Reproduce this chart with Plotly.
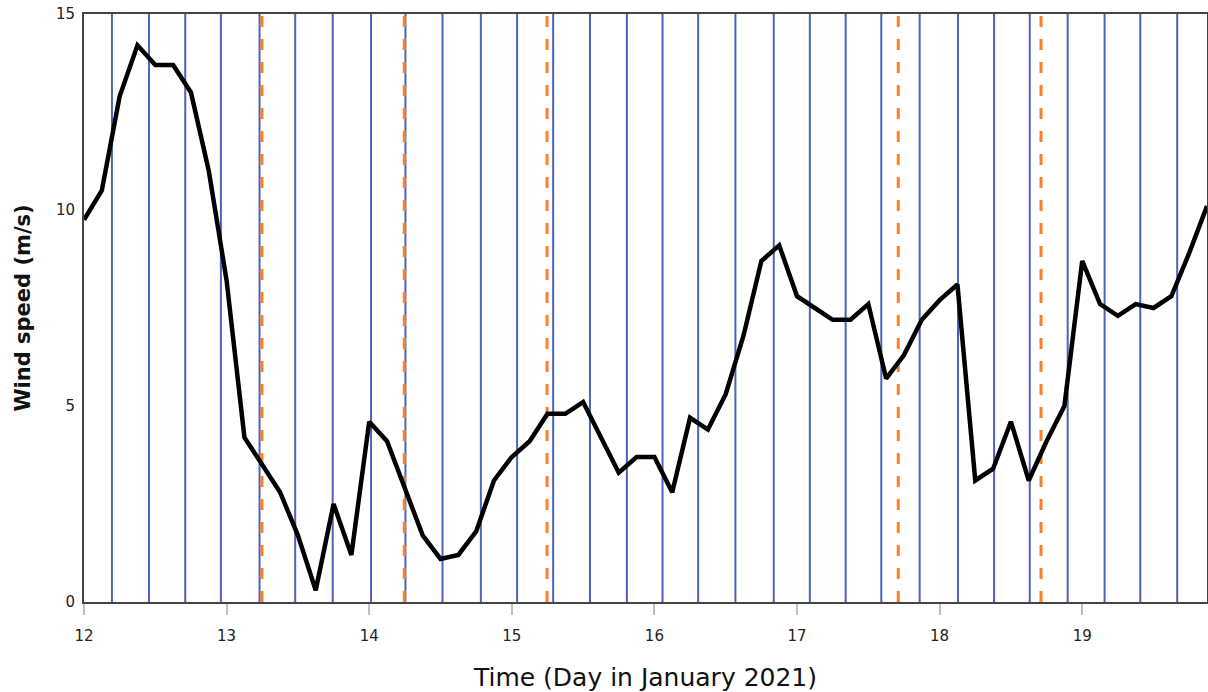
import plotly.graph_objects as go

# 3-hourly wind speed, 12 Jan 00:00 to 19 Jan 21:00 (m/s)
wind_speed = [
    9.75, 10.5, 12.9, 14.2, 13.7, 13.7, 13.0, 11.0,
    8.2, 4.2, 3.5, 2.8, 1.7, 0.3, 2.5, 1.2,
    4.6, 4.1, 2.9, 1.7, 1.1, 1.2, 1.8, 3.1,
    3.7, 4.1, 4.8, 4.8, 5.1, 4.2, 3.3, 3.7,
    3.7, 2.8, 4.7, 4.4, 5.3, 6.8, 8.7, 9.1,
    7.8, 7.5, 7.2, 7.2, 7.6, 5.7, 6.3, 7.2,
    7.7, 8.1, 3.1, 3.4, 4.6, 3.1, 4.1, 5.0,
    8.7, 7.6, 7.3, 7.6, 7.5, 7.8, 8.9, 10.1,
]
step_days = 0.125
start_day = 12.0
time_day = [start_day + i * step_days for i in range(len(wind_speed))]

# Event times (day of month) marked with vertical lines
blue_times = [
    12.196, 12.456, 12.710, 12.960, 13.231, 13.481, 13.744, 14.013,
    14.254, 14.514, 14.783, 15.037, 15.290, 15.548, 15.807, 16.057,
    16.307, 16.568, 16.837, 17.090, 17.341, 17.591, 17.860, 18.129,
    18.382, 18.632, 18.898, 19.157, 19.407, 19.666,
]
orange_times = [13.248, 14.246, 15.247, 17.710, 18.711]

x_ticks = [12, 13, 14, 15, 16, 17, 18, 19]
y_ticks = [0, 5, 10, 15]

FONT = "Verdana, DejaVu Sans, sans-serif"

fig = go.Figure()

fig.add_trace(go.Scatter(
    x=time_day, y=wind_speed, mode="lines",
    line=dict(color="black", width=4.5),
    hoverinfo="x+y", showlegend=False,
))

shapes = []
for t in blue_times:
    shapes.append(dict(type="line", xref="x", yref="paper", x0=t, x1=t, y0=0, y1=1,
                       line=dict(color="#4a64b9", width=2), layer="below"))
for t in orange_times:
    shapes.append(dict(type="line", xref="x", yref="paper", x0=t, x1=t, y0=0, y1=1,
                       line=dict(color="#ff7f27", width=3, dash="11px,12px"), layer="below"))

fig.update_layout(
    width=1208, height=692,
    margin=dict(l=84, r=1, t=14, b=90, autoexpand=False),
    plot_bgcolor="white", paper_bgcolor="white",
    font=dict(family=FONT, color="#222", size=14),
    shapes=shapes,
    xaxis=dict(
        range=[12, 19.875], tickvals=x_ticks, ticktext=[str(v) for v in x_ticks],
        showgrid=False, zeroline=False,
        showline=True, linecolor="#444", linewidth=2, mirror=True,
        ticks="outside", ticklen=11, tickwidth=2, tickcolor="#c0c0c0",
        ticklabelstandoff=8,
        tickfont=dict(size=15, family=FONT, color="#222"),
        title=dict(text="Time (Day in January 2021)", standoff=25,
                   font=dict(size=25, family=FONT, color="#111")),
        automargin=False,
    ),
    yaxis=dict(
        range=[0, 15], tickvals=y_ticks, ticktext=[str(v) for v in y_ticks],
        showgrid=False, zeroline=False,
        showline=True, linecolor="#444", linewidth=2, mirror=True,
        ticks="", ticklabelstandoff=4,
        tickfont=dict(size=15, family=FONT, color="#222"),
        title=dict(text="<b>Wind speed (m/s)</b>", standoff=20,
                   font=dict(size=21, family=FONT, color="#111")),
        automargin=False,
    ),
)

fig.write_html("out.html")
